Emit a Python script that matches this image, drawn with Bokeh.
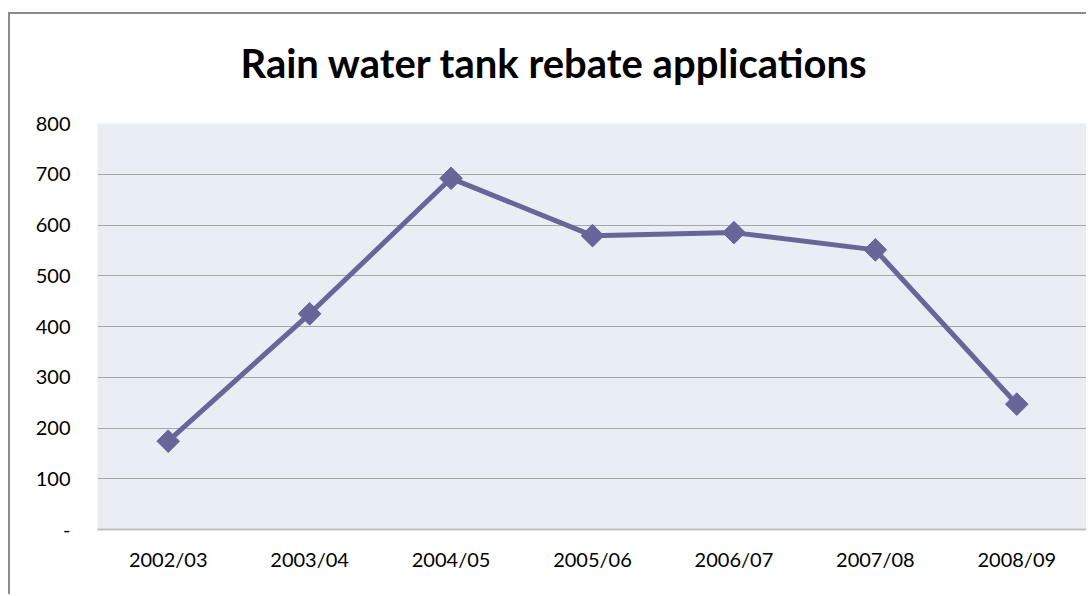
from bokeh.plotting import figure
from bokeh.embed import file_html
from bokeh.resources import INLINE
from bokeh.models import Title, FixedTicker
import math

categories = ["2002/03", "2003/04", "2004/05", "2005/06", "2006/07", "2007/08", "2008/09"]
applications = [174, 425, 692, 579, 585, 551, 247]
y_ticks = [0, 100, 200, 300, 400, 500, 600, 700, 800]
title_text = "Rain water tank rebate applications"

FONT = "Lato"
LINE = "#666699"

p = figure(x_range=categories, y_range=(0, 800), width=1078, height=582,
           output_backend="svg", toolbar_location=None,
           min_border_left=87, min_border_right=1, min_border_bottom=67, min_border_top=109)
p.styles = {"border-top": "2px solid #8c8c8c", "border-left": "2px solid #8c8c8c",
            "margin-top": "12px", "margin-left": "8px"}

# white (invisible on white) spacer nearest the frame, then the real title above it
p.add_layout(Title(text=".", text_font=FONT, text_font_size="20px", text_color="#FFFFFF",
                   standoff=20), "above")
p.add_layout(Title(text=title_text, text_font=FONT,
                   text_font_size="40px", text_font_style="bold", align="left",
                   text_color="#000000", offset=143, standoff=0), "above")

p.background_fill_color = "#E9EDF4"
p.border_fill_color = "#FFFFFF"
p.outline_line_color = None

p.xgrid.grid_line_color = None
p.ygrid.grid_line_color = "#A6A6A6"
p.ygrid.grid_line_width = 1

p.yaxis.ticker = FixedTicker(ticks=y_ticks)
p.yaxis.major_label_overrides = {0: "-"}
p.yaxis.axis_line_color = None
p.yaxis.major_tick_line_color = None
p.yaxis.minor_tick_line_color = None
p.yaxis.major_label_standoff = 21
p.xaxis.axis_line_color = "#BFBFBF"
p.xaxis.axis_line_width = 2
p.xaxis.major_tick_line_color = None
p.xaxis.major_label_standoff = 11
for ax in (p.xaxis, p.yaxis):
    ax.major_label_text_font = FONT
    ax.major_label_text_font_size = "20px"
    ax.major_label_text_color = "#000000"

p.line(categories, applications, line_color=LINE, line_width=5)
p.scatter(categories, applications, marker="square", size=16, angle=math.pi / 4,
          fill_color=LINE, line_color=LINE)

open("out.html", "w").write(file_html(p, INLINE))
